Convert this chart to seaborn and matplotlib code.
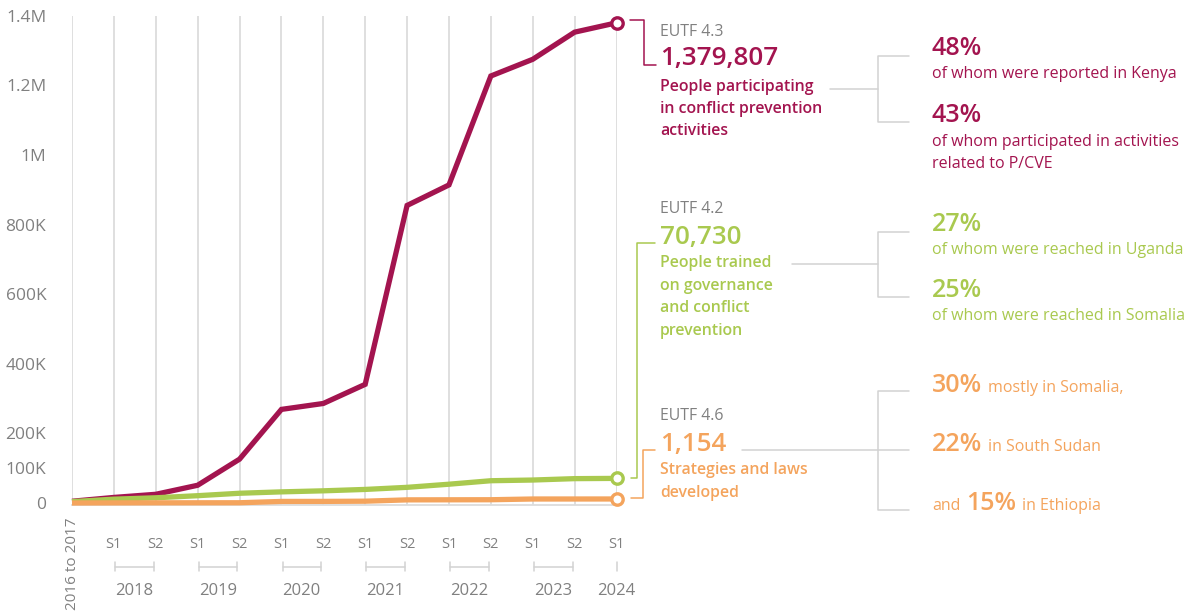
#!/usr/bin/env python3
"""EUTF conflict-prevention indicators: cumulative lines with callouts on the right."""
import matplotlib
matplotlib.use("Agg")
import matplotlib.pyplot as plt
import pandas as pd
import seaborn as sns
from matplotlib.lines import Line2D
from matplotlib.transforms import blended_transform_factory

# ---- data --------------------------------------------------------------
PERIODS = ["2016 to 2017"] + ["S1", "S2"] * 6 + ["S1"]
YEARS = ["2018", "2019", "2020", "2021", "2022", "2023", "2024"]

PARTICIPANTS = [5000, 16000, 25000, 51000, 126000, 269000, 286000, 341000,
                855000, 914000, 1227000, 1275000, 1353000, 1379807]
TRAINED = [4000, 11000, 15000, 21000, 28000, 32000, 35000, 39000,
           45000, 54000, 64000, 66000, 70000, 70730]
STRATEGIES = [0, 30, 50, 60, 70, 450, 460, 520, 900, 920, 940, 1150, 1150, 1154]
STRATEGY_SCALE = 10  # strategies are drawn x10 so the line is visible

YTICKS = [0, 100_000, 200_000, 400_000, 600_000, 800_000,
          1_000_000, 1_200_000, 1_400_000]

PURPLE = "#a3144f"
GREEN = "#a9c94f"
ORANGE = "#f4a45d"
GREY_TXT = "#808080"
GREY_LINE = "#d2d2d2"
GRID = "#dcdcdc"

W, H = 1194, 614

sns.set_theme(style="white")
plt.rcParams["font.family"] = ["Open Sans", "DejaVu Sans"]


def fx(px):
    return px / W


def fy(py):
    return 1 - py / H


fig = plt.figure(figsize=(W / 100, H / 100), dpi=100)
# axes: x index 0 at 72px, 13 at 616.5px; y 1.4M at 15.8px, bottom at 505px
ax = fig.add_axes([fx(72), fy(505), (616.5 - 72) / W, (505 - 15.8) / H])

series = {"participants": PARTICIPANTS, "trained": TRAINED,
          "strategies": [v * STRATEGY_SCALE for v in STRATEGIES]}
palette = {"participants": PURPLE, "trained": GREEN, "strategies": ORANGE}
df = pd.concat([pd.DataFrame({"idx": range(len(PERIODS)), "value": vals, "series": name})
                for name, vals in series.items()], ignore_index=True)

sns.lineplot(data=df, x="idx", y="value", hue="series", palette=palette,
             linewidth=3.8, legend=False, ax=ax, clip_on=False, zorder=3)
for line in ax.lines:
    line.set_solid_joinstyle("miter")
    line.set_solid_capstyle("butt")

last = df[df["idx"] == len(PERIODS) - 1]
for _, row in last.iterrows():
    ax.plot(row["idx"], row["value"], "o", ms=8.2, mfc="white",
            mec=palette[row["series"]], mew=2.4, clip_on=False, zorder=5)

ax.set_xlim(0, len(PERIODS) - 1)
ax.set_ylim(-5750, 1_400_000)
ax.set_xticks(range(len(PERIODS)))
ax.set_xticklabels([])
ax.grid(axis="x", color=GRID, lw=1.3)
ax.grid(axis="y", visible=False)
ax.set_yticks(YTICKS)
ax.set_yticklabels(["0" if v == 0 else f"{v / 1e6:g}M" if v >= 1e6 else f"{v / 1000:.0f}K"
                    for v in YTICKS])
ax.tick_params(axis="y", length=0, pad=18.5, labelsize=12.5, labelcolor=GREY_TXT)
ax.tick_params(axis="x", length=0)
for s in ["left", "top", "right"]:
    ax.spines[s].set_visible(False)
ax.spines["bottom"].set_color(GRID)
ax.spines["bottom"].set_linewidth(1.3)
ax.set_xlabel("")
ax.set_ylabel("")

# ---- x labels ------------------------------------------------------------
bt = blended_transform_factory(ax.transData, fig.transFigure)
ax.text(0, fy(518), PERIODS[0], transform=bt, rotation=90, ha="center", va="top",
        fontsize=11, color=GREY_TXT)
for i, lab in enumerate(PERIODS[1:], start=1):
    ax.text(i, fy(548), lab, transform=bt, ha="center", va="baseline",
            fontsize=10.5, color=GREY_TXT)
for j, year in enumerate(YEARS):
    if j < len(YEARS) - 1:
        x0, x1 = 2 * j + 1.03, 2 * j + 1.95
        ax.add_line(Line2D([x0, x1], [fy(566.5)] * 2, transform=bt, color=GREY_LINE,
                           lw=1.1, clip_on=False))
        for xe in (x0, x1):
            ax.add_line(Line2D([xe, xe], [fy(562), fy(571)], transform=bt,
                               color=GREY_LINE, lw=1.1, clip_on=False))
        xc = 2 * j + 1.48
    else:
        xc = len(PERIODS) - 1
        ax.add_line(Line2D([xc, xc], [fy(562), fy(571)], transform=bt,
                           color=GREY_LINE, lw=1.1, clip_on=False))
    ax.text(xc, fy(595), year, transform=bt, ha="center", va="baseline",
            fontsize=12, color=GREY_TXT)


# ---- callouts ------------------------------------------------------------
def fline(xs, ys, color, lw=1.1):
    fig.add_artist(Line2D([fx(x) for x in xs], [fy(y) for y in ys], color=color, lw=lw))


def ftext(x, y, s, color, size, weight="normal"):
    return fig.text(fx(x), fy(y), s, color=color, fontsize=size, fontweight=weight,
                    ha="left", va="baseline")


def text_run(x, y, parts, gap=6):
    renderer = fig.canvas.get_renderer()
    for s, color, size, weight in parts:
        t = ftext(x, y, s, color, size, weight)
        x = t.get_window_extent(renderer).x1 + gap


# coloured brackets from the end markers
fline([630, 643.5, 643.5, 656], [20, 20, 65, 65], PURPLE)
fline([631, 637, 637, 655], [478, 478, 243, 243], GREEN)
fline([631, 643, 643, 655], [497.7, 497.7, 450, 450], ORANGE)

# grey connectors
fline([830, 878], [89, 89], GREY_LINE)
fline([909, 878, 878, 909], [56, 56, 122, 122], GREY_LINE)
fline([792, 878], [264, 264], GREY_LINE)
fline([909, 878, 878, 909], [232, 232, 297, 297], GREY_LINE)
fline([742, 909], [450, 450], GREY_LINE)
fline([909, 878, 878, 909], [391, 391, 510, 510], GREY_LINE)

BIG, DESC, PCT, SMALL, CODE = 18.7, 11.4, 18, 11.5, 11.4

# EUTF 4.3
ftext(660, 36, "EUTF 4.3", GREY_TXT, CODE)
ftext(660, 65, "1,379,807", PURPLE, BIG, "semibold")
for y, s in zip([91, 113, 135], ["People participating", "in conflict prevention", "activities"]):
    ftext(660, y, s, PURPLE, DESC, "semibold")
ftext(932, 55, "48%", PURPLE, PCT, "semibold")
ftext(932, 77.5, "of whom were reported in Kenya", PURPLE, SMALL)
ftext(932, 121.5, "43%", PURPLE, PCT, "semibold")
ftext(932, 145.5, "of whom participated in activities", PURPLE, SMALL)
ftext(932, 168, "related to P/CVE", PURPLE, SMALL)

# EUTF 4.2
ftext(660, 213, "EUTF 4.2", GREY_TXT, CODE)
ftext(660, 244, "70,730", GREEN, BIG, "semibold")
for y, s in zip([267, 289.5, 312, 335],
                ["People trained", "on governance", "and conflict", "prevention"]):
    ftext(660, y, s, GREEN, DESC, "semibold")
ftext(932, 231, "27%", GREEN, PCT, "semibold")
ftext(932, 254, "of whom were reached in Uganda", GREEN, SMALL)
ftext(932, 297, "25%", GREEN, PCT, "semibold")
ftext(932, 320, "of whom were reached in Somalia", GREEN, SMALL)

# EUTF 4.6
ftext(660, 420, "EUTF 4.6", GREY_TXT, CODE)
ftext(660, 451, "1,154", ORANGE, BIG, "semibold")
ftext(660, 474, "Strategies and laws", ORANGE, DESC, "semibold")
ftext(660, 497, "developed", ORANGE, DESC, "semibold")
text_run(932, 391.5, [("30%", ORANGE, PCT, "semibold"), ("mostly in Somalia,", ORANGE, SMALL, "normal")])
text_run(932, 451, [("22%", ORANGE, PCT, "semibold"), ("in South Sudan", ORANGE, SMALL, "normal")])
text_run(932, 510.5, [("and", ORANGE, SMALL, "normal"), ("15%", ORANGE, PCT, "semibold"),
                      ("in Ethiopia", ORANGE, SMALL, "normal")])

fig.savefig("out.png", dpi=100)
